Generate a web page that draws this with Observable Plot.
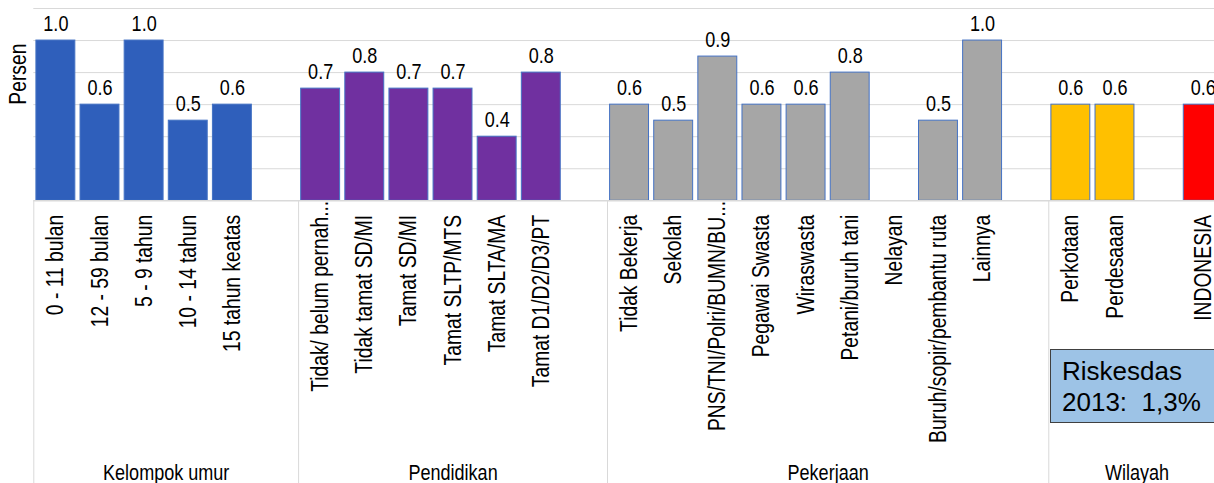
<!DOCTYPE html>
<html>
<head>
<meta charset="utf-8">
<script src="https://cdn.jsdelivr.net/npm/d3@7"></script>
<script src="https://cdn.jsdelivr.net/npm/@observablehq/plot@0.6"></script>
<style>
  html, body { margin: 0; padding: 0; background: #fff; overflow: hidden; }
  #wrap { position: relative; width: 1214px; height: 483px; overflow: hidden; }
  #wrap svg { display: block; overflow: hidden; }
  #note {
    position: absolute; left: 1050px; top: 349px; width: 200px; height: 66px;
    background: #9DC3E6; border: 1px solid #404040;
    font-family: "Liberation Sans", Arial, sans-serif; font-size: 26px; line-height: 31px;
    padding: 6px 0 0 11px; color: #000; white-space: pre;
  }
</style>
</head>
<body>
<div id="wrap"><div id="chart"></div><div id="note"></div></div>
<script>
// ---- data ----
const groups = ["Kelompok umur", "Pendidikan", "Pekerjaan", "Wilayah"];
const categories = [
  "0 - 11 bulan", "12 - 59 bulan", "5 - 9 tahun", "10 - 14 tahun", "15 tahun keatas", "",
  "Tidak/ belum pernah...", "Tidak tamat SD/MI", "Tamat SD/MI", "Tamat SLTP/MTS", "Tamat SLTA/MA", "Tamat D1/D2/D3/PT", "",
  "Tidak Bekerja", "Sekolah", "PNS/TNI/Polri/BUMN/BU...", "Pegawai Swasta", "Wiraswasta", "Petani/buruh tani", "Nelayan", "Buruh/sopir/pembantu ruta", "Lainnya", "",
  "Perkotaan", "Perdesaaan", "", "INDONESIA"
];
const categoryGroup = [
  "Kelompok umur", "Kelompok umur", "Kelompok umur", "Kelompok umur", "Kelompok umur", "Kelompok umur",
  "Pendidikan", "Pendidikan", "Pendidikan", "Pendidikan", "Pendidikan", "Pendidikan", "Pendidikan",
  "Pekerjaan", "Pekerjaan", "Pekerjaan", "Pekerjaan", "Pekerjaan", "Pekerjaan", "Pekerjaan", "Pekerjaan", "Pekerjaan", "Pekerjaan",
  "Wilayah", "Wilayah", "Wilayah", "Wilayah"
];
const values = [
  1.0, 0.6, 1.0, 0.5, 0.6, null,
  0.7, 0.8, 0.7, 0.7, 0.4, 0.8, null,
  0.6, 0.5, 0.9, 0.6, 0.6, 0.8, null, 0.5, 1.0, null,
  0.6, 0.6, null, 0.6
];
const seriesNames = ["Kelompok umur", "Pendidikan", "Pekerjaan", "Wilayah", "INDONESIA"];
const seriesColors = ["#2F5FBB", "#7030A0", "#A6A6A6", "#FFC000", "#FF0000"];
const yTicks = [0.2, 0.4, 0.6, 0.8, 1.0, 1.2];
const yLabel = "Persen";
const noteText = "Riskesdas\n2013:  1,3%";

// ---- layout ----
const W = 1214, H = 483;
const padL = 33.3, step = 44.13, padT = 8, base = 200.3;
const font = "'Liberation Sans', Arial, sans-serif";
const squeeze = 0.82; // narrow (Arial Narrow-like) text

const slots = categories.map((c, i) => ({i, category: c, group: categoryGroup[i], value: values[i]}));
const bars = slots.filter(d => d.value != null);
const spans = groups.map(g => {
  const idx = slots.filter(d => d.group === g).map(d => d.i);
  return {group: g, start: d3.min(idx), end: d3.max(idx) + 1};
});
const series = d => d.category === "INDONESIA" ? "INDONESIA" : d.group;
const isCut = d => d.category.endsWith("...");

const chart = Plot.plot({
  width: W, height: H,
  marginLeft: padL, marginRight: 0, marginTop: padT, marginBottom: H - base,
  x: {type: "linear", domain: [0, categories.length], range: [padL, padL + step * categories.length], axis: null},
  y: {domain: [0, 1.2], range: [base, padT], axis: null},
  color: {domain: seriesNames, range: seriesColors},
  style: {background: "#fff"},
  marks: [
    Plot.ruleY(yTicks, {stroke: "#d9d9d9", strokeWidth: 1}),
    Plot.ruleX(spans, {x: "start", y1: () => 0, y2: () => 0, insetBottom: -(H - base), stroke: "#d9d9d9", strokeWidth: 1}),
    Plot.rectY(bars, {x1: d => d.i, x2: d => d.i + 1, y1: () => 0, y2: "value", fill: series,
      insetLeft: 2.6, insetRight: 2.6, stroke: "#4472C4", strokeWidth: 1}),
    Plot.ruleY([0], {stroke: "#d9d9d9", strokeWidth: 1.5}),
    Plot.text(bars, {x: d => d.i + 0.5, y: "value", text: d => d.value.toFixed(1),
      lineAnchor: "bottom", dy: -10, fontSize: 22, fontFamily: font, fill: "#000"}),
    Plot.text(slots.filter(d => d.category && !isCut(d)), {x: d => d.i + 0.5, y: () => 0, text: "category",
      rotate: -90, textAnchor: "end", lineAnchor: "middle", dy: 14, fontSize: 23.5, fontFamily: font, fill: "#000"}),
    Plot.text(slots.filter(d => d.category && isCut(d)), {x: d => d.i + 0.5, y: () => 0, text: "category",
      rotate: -90, textAnchor: "end", lineAnchor: "middle", dy: 0, fontSize: 23.5, fontFamily: font, fill: "#000"}),
    Plot.text(spans, {x: d => (d.start + d.end) / 2, y: () => 0, text: "group",
      lineAnchor: "bottom", dy: H - base - 4, fontSize: 22, fontFamily: font, fill: "#000"}),
    Plot.text([yLabel], {frameAnchor: "left", rotate: -90, dx: -15, lineAnchor: "middle",
      fontSize: 23.5, fontFamily: font, fill: "#000"})
  ]
});
document.getElementById("chart").appendChild(chart);
// narrow the chart texts along their writing direction (Arial Narrow look)
chart.querySelectorAll("text").forEach(t => {
  const len = t.getComputedTextLength();
  if (len > 0) {
    t.setAttribute("textLength", (len * squeeze).toFixed(2));
    t.setAttribute("lengthAdjust", "spacingAndGlyphs");
  }
});
document.getElementById("note").textContent = noteText;
</script>
</body>
</html>
